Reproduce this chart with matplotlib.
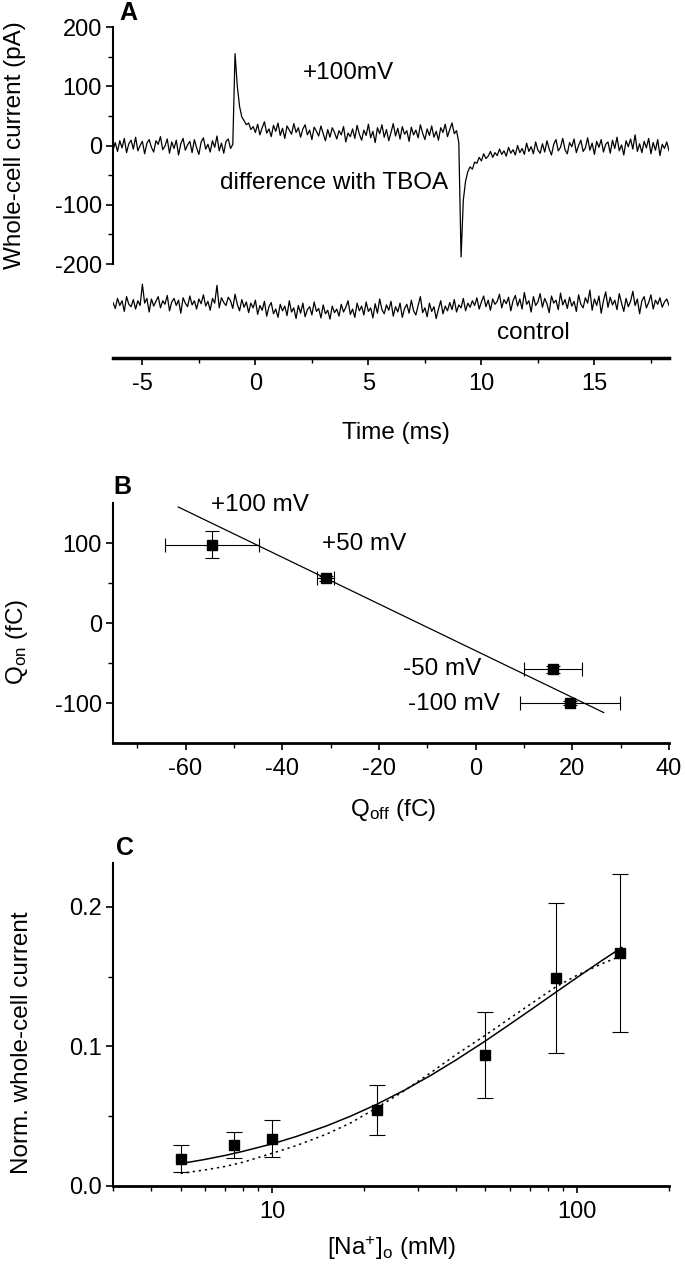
import numpy as np
import matplotlib
matplotlib.use("Agg")
import matplotlib.pyplot as plt
from matplotlib.ticker import FixedLocator, NullFormatter

plt.rcParams['font.family'] = ['Liberation Sans', 'DejaVu Sans']
plt.rcParams['mathtext.default'] = 'regular'
plt.rcParams['axes.unicode_minus'] = False

# ---------------- Panel A data ----------------
time_start, time_step = -6.3, 0.1
diff_trace = [
    -8, 5, -10, 8, -4, 12, -12, 3, 9, -6,
    14, -9, 0, 7, -14, 4, 10, -3, -11, 8,
    2, 15, -7, -1, 11, -13, 6, -5, 9, -16,
    3, 12, -8, 1, 7, -12, 10, -4, -15, 6,
    13, -6, 2, -11, 8, -3, 16, -9, 4, -13,
    7, 11, -5, 2, 155, 100, 66, 48, 42, 35,
    38, 27, 32, 22, 36, 18, 30, 40, 21, 28,
    15, 34, 24, 38, 17, 29, 12, 33, 26, 19,
    37, 22, 30, 14, 28, 35, 18, 26, 10, 31,
    24, 16, 33, 20, 8, 27, 14, 30, 22, 11,
    25, 18, 32, 6, 21, 15, 28, 12, 34, 19,
    9, 26, 17, 36, 13, 24, 5, 30, 20, 35,
    14, 27, 8, 22, 37, 16, 29, 11, 32, 19,
    25, 7, 31, 18, 26, 13, 35, 21, 10, 28,
    17, 33, 14, 24, 9, 30, 22, 36, 15, 27,
    38, 20, 25, 5, -188, -92, -60, -44, -36, -40,
    -28, -30, -20, -26, -14, -22, -18, -10, -20, -12,
    -17, -6, -15, -9, -18, -3, -13, -7, -16, 0,
    -12, -5, -15, 4, -10, -2, -14, 6, -8, -13,
    3, -11, 8, -6, -16, 2, 10, -9, -3, 12,
    -7, -14, 5, -2, 11, -12, 0, 9, -10, -4,
    13, -8, 4, -15, 7, -3, 10, -11, 2, 6,
    -13, 9, -5, 14, -9, 1, -16, 8, -2, 11,
    -6, 18, -10, 3, -12, 7, -4, 12, -14, 5,
    -8, 10, -17, 2, -5, 6, -9,
]
control_trace = [
    -265, -275, -258, -270, -262, -280, -255, -268, -272, -260,
    -276, -262, -270, -234, -266, -258, -281, -259, -271, -263,
    -255, -274, -262, -268, -253, -279, -264, -258, -270, -261,
    -283, -257, -266, -272, -254, -269, -262, -276, -259, -267,
    -252, -271, -263, -278, -258, -266, -236, -274, -257, -265,
    -270, -256, -262, -275, -251, -268, -279, -260, -273, -264,
    -282, -266, -274, -261, -285, -270, -278, -263, -288, -272,
    -265, -284, -276, -290, -268, -279, -271, -287, -262, -281,
    -274, -292, -270, -283, -266, -289, -277, -272, -286, -264,
    -280, -275, -291, -269, -284, -278, -293, -271, -282, -276,
    -288, -268, -281, -273, -262, -285, -276, -290, -266, -279,
    -271, -286, -264, -280, -274, -291, -267, -283, -259, -277,
    -284, -269, -278, -263, -288, -272, -281, -266, -290, -275,
    -268, -283, -261, -279, -286, -270, -255, -282, -274, -289,
    -266, -280, -272, -292, -276, -262, -284, -271, -279, -265,
    -277, -260, -281, -269, -274, -258, -279, -266, -273, -262,
    -270, -257, -276, -264, -254, -272, -261, -278, -259, -268,
    -263, -251, -274, -260, -267, -256, -279, -262, -253, -271,
    -259, -276, -248, -268, -262, -281, -255, -270, -264, -250,
    -273, -258, -267, -282, -254, -266, -261, -277, -249, -269,
    -260, -275, -256, -271, -263, -280, -252, -268, -274, -257,
    -266, -244, -278, -259, -270, -254, -283, -262, -247, -273,
    -256, -269, -261, -277, -250, -266, -280, -258, -272, -263,
    -246, -270, -259, -284, -262, -255, -274, -265, -252, -276,
    -261, -268, -257, -273, -264, -259, -270,
]
a_xticks = [-5, 0, 5, 10, 15]
a_yticks = [-200, -100, 0, 100, 200]

# ---------------- Panel B data ----------------
qoff = [-54.5, -31.0, 16.0, 19.5]
qon = [98, 56, -58, -100]
qoff_err = [9.8, 1.8, 6.0, 10.3]
qon_err = [17, 3, 4, 3]
b_labels = ['+100 mV', '+50 mV', '-50 mV', '-100 mV']
fit_b_x = [-61.5, 26.5]
fit_b_y = [145, -112]

# ---------------- Panel C data ----------------
na_conc = [5, 7.5, 10, 22, 50, 85, 138]
norm_current = [0.0196, 0.0295, 0.034, 0.0544, 0.0938, 0.149, 0.167]
norm_err = [0.0095, 0.0095, 0.013, 0.018, 0.031, 0.0535, 0.0565]
fit_c_x = [5, 6, 7, 8, 10, 12, 15, 18, 22, 27, 33, 40, 50, 60, 70, 85, 100, 120, 140]
fit_c_solid = [0.0160, 0.0190, 0.0219, 0.0248, 0.0302, 0.0355, 0.0429, 0.0499, 0.0585,
               0.0684, 0.0791, 0.0902, 0.1039, 0.1157, 0.1258, 0.1387, 0.1494, 0.1612, 0.1708]
fit_c_dotted = [0.0090, 0.0115, 0.0140, 0.0170, 0.0235, 0.0290, 0.0370, 0.0450, 0.0560,
                0.0680, 0.0810, 0.0940, 0.1080, 0.1200, 0.1300, 0.1425, 0.1510, 0.1590, 0.1650]

W, H = 685, 1280
fig = plt.figure(figsize=(W / 100, H / 100), dpi=100)

def frac(x0, y0, x1, y1):
    return [x0 / W, 1 - y1 / H, (x1 - x0) / W, (y1 - y0) / H]

TICK_FS = 17
LAB_FS = 17.5
LET_FS = 18
LW = 0.9

def style_axes(ax):
    for s in ['top', 'right']:
        ax.spines[s].set_visible(False)
    ax.spines['left'].set_linewidth(1.5)
    ax.spines['bottom'].set_linewidth(2.0)
    ax.tick_params(which='major', direction='out', length=5, width=1.2, labelsize=TICK_FS, pad=3)
    ax.tick_params(which='minor', direction='out', length=3.5, width=1.0)
    ax.tick_params(axis='x', which='major', pad=6)

# ---------------- Panel A ----------------
axA = fig.add_axes(frac(113, 27, 669, 358))
t = time_start + time_step * np.arange(len(diff_trace))
axA.plot(t, diff_trace, color='black', lw=LW)
axA.plot(t, control_trace, color='black', lw=LW)
axA.set_xlim(-6.3, 18.3)
axA.set_ylim(-358.6, 200)
style_axes(axA)
axA.spines['bottom'].set_linewidth(2.5)
axA.spines['left'].set_bounds(-200, 200)
axA.set_yticks(a_yticks)
axA.yaxis.set_minor_locator(FixedLocator([-150, -50, 50, 150]))
axA.set_xticks(a_xticks)
axA.xaxis.set_minor_locator(FixedLocator([-2.5, 2.5, 7.5, 12.5, 17.5]))
axA.text(4.1, 123, '+100mV', ha='center', va='center', fontsize=LAB_FS)
axA.text(3.5, -64, 'difference with TBOA', ha='center', va='center', fontsize=LAB_FS)
axA.text(12.3, -317, 'control', ha='center', va='center', fontsize=LAB_FS)
fig.text(0.022, 1 - 145 / H, 'Whole-cell current (pA)', rotation=90, ha='center', va='center', fontsize=LAB_FS)
fig.text(396 / W, 1 - 433 / H, 'Time (ms)', ha='center', va='center', fontsize=LAB_FS)
fig.text(128 / W, 1 - 13 / H, 'A', ha='center', va='center', fontsize=LET_FS, fontweight='bold')

# ---------------- Panel B ----------------
axB = fig.add_axes(frac(113, 503, 669, 743))
axB.plot(fit_b_x, fit_b_y, color='black', lw=LW)
axB.errorbar(qoff, qon, xerr=qoff_err, yerr=qon_err, fmt='s', color='black', ms=6.5,
             elinewidth=0.8, capsize=5, capthick=0.8)
axB.set_xlim(-75, 40)
axB.set_ylim(-150, 150)
style_axes(axB)
axB.set_xticks([-60, -40, -20, 0, 20, 40])
axB.xaxis.set_minor_locator(FixedLocator([-70, -50, -30, -10, 10, 30]))
axB.set_yticks([-100, 0, 100])
axB.yaxis.set_minor_locator(FixedLocator([-50, 50]))
b_pos = [(-54.8, 147.5), (-31.7, 99), (-15.1, -57.5), (-13.9, -101)]
for lab, (x, y) in zip(b_labels, b_pos):
    axB.text(x, y, lab, ha='left', va='center', fontsize=LAB_FS)
fig.text(0.025, 1 - 642 / H, 'Q$_{on}$ (fC)', rotation=90, ha='center', va='center', fontsize=LAB_FS)
fig.text(393 / W, 1 - 810 / H, 'Q$_{off}$ (fC)', ha='center', va='center', fontsize=LAB_FS)
fig.text(122 / W, 1 - 487 / H, 'B', ha='center', va='center', fontsize=LET_FS, fontweight='bold')

# ---------------- Panel C ----------------
axC = fig.add_axes(frac(113, 863, 669, 1186))
axC.set_xscale('log')
axC.plot(fit_c_x, fit_c_solid, color='black', lw=1.1)
axC.plot(fit_c_x, fit_c_dotted, color='black', lw=1.1, ls=(0, (1.5, 2.5)))
axC.errorbar(na_conc, norm_current, yerr=norm_err, fmt='s', color='black', ms=6.5,
             elinewidth=0.8, capsize=5.5, capthick=0.8)
axC.set_xlim(3, 200)
axC.set_ylim(0, 0.2313)
style_axes(axC)
axC.set_xticks([10, 100])
axC.set_xticklabels(['10', '100'])
axC.xaxis.set_minor_locator(FixedLocator([3, 4, 5, 6, 7, 8, 9, 20, 30, 40, 50, 60, 70, 80, 90, 200]))
axC.xaxis.set_minor_formatter(NullFormatter())
axC.set_yticks([0.0, 0.1, 0.2])
axC.set_yticklabels(['0.0', '0.1', '0.2'])
axC.yaxis.set_minor_locator(FixedLocator([0.05, 0.15]))
fig.text(0.032, 1 - 1043 / H, 'Norm. whole-cell current', rotation=90, ha='center', va='center', fontsize=LAB_FS)
fig.text(392 / W, 1 - 1248 / H, '[Na$^{+}$]$_{o}$ (mM)', ha='center', va='center', fontsize=LAB_FS)
fig.text(125 / W, 1 - 848 / H, 'C', ha='center', va='center', fontsize=LET_FS, fontweight='bold')

fig.savefig('out.png', dpi=100)
